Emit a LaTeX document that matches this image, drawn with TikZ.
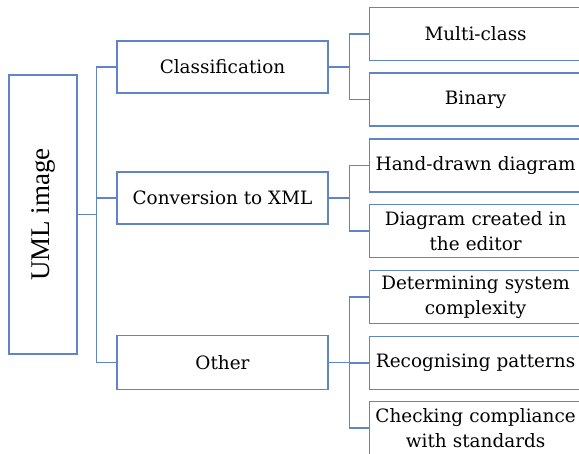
\documentclass[tikz,border=0pt]{standalone}
\usepackage{fontspec}
\setmainfont{DejaVu Serif}
\newfontfamily\rootfont{Liberation Serif}
\usetikzlibrary{positioning}
\definecolor{boxblue}{RGB}{95,132,200}
\tikzset{
  box/.style={draw=boxblue, line width=1.2pt, align=center, inner sep=1pt,
    font=\fontsize{18.4}{25}\selectfont},
  midbox/.style={box, minimum width=211pt, minimum height=52pt},
  leaf/.style={box, anchor=west, minimum width=212pt, minimum height=53pt, text width=206pt},
  conn/.style={draw=boxblue, line width=1.2pt},
}

\begin{document}
\begin{tikzpicture}[x=1pt, y=-1pt]
  \useasboundingbox (0,0) rectangle (579,454);

  \node [box, minimum width=68pt, minimum height=279pt,
         font=\rootfont\fontsize{27}{30}\selectfont] (uml) at (43,214.5) {\rotatebox{90}{UML image}};

  \node [midbox] (cls) at (222.5,67) {Classification};
  \node [midbox] (conv) at (222.5,198) {Conversion to XML};
  \node [midbox, minimum height=54pt] (other) at (222.5,362.5) {Other};

  \node [leaf] (multi) at (369,34) {Multi-class};
  \node [leaf] (binary) at (369,99.5) {Binary};
  \node [leaf] (hand) at (369,165.5) {Hand-drawn diagram};
  \node [leaf] (editor) at (369,231) {Diagram created in\\the editor};
  \node [leaf] (complex) at (369,297) {Determining system\\complexity};
  \node [leaf] (pattern) at (369,363) {Recognising patterns};
  \node [leaf] (standard) at (369,428) {Checking compliance\\with standards};

  % first level
  \foreach \n in {cls, conv, other}
    \draw [conn] (uml.east) -- ++(19,0) |- (\n.west);

  % second level
  \foreach \a/\b in {cls/multi, cls/binary, conv/hand, conv/editor,
                     other/complex, other/pattern, other/standard}
    \draw [conn] (\a.east) -- ++(21,0) |- (\b.west);
\end{tikzpicture}
\end{document}
